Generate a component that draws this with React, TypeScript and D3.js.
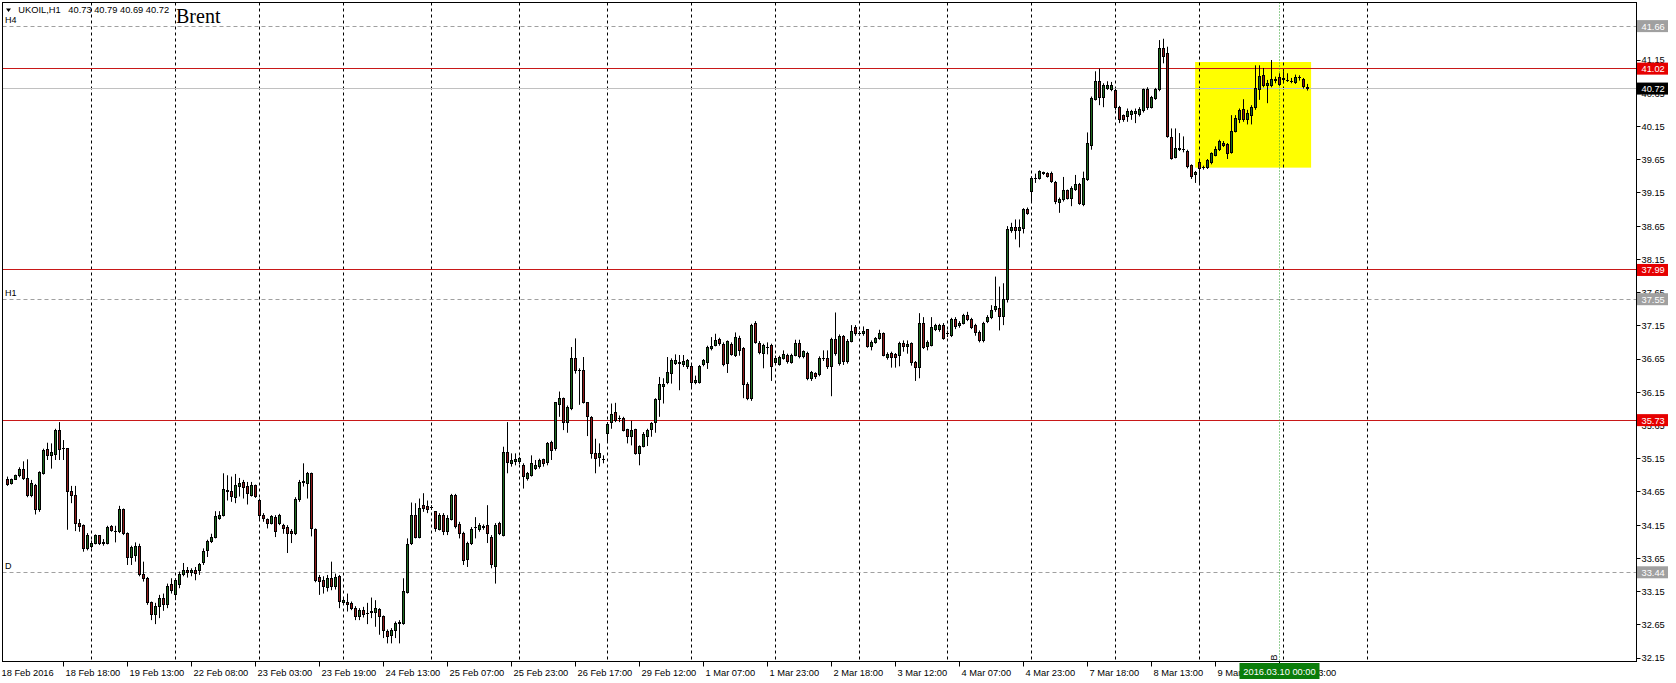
import React from 'react';
import * as d3 from 'd3';

const WIDTH = 1676;
const HEIGHT = 683;
const FONT = '"Liberation Sans", Arial, sans-serif';

const SYMBOL = 'UKOIL,H1';
const TITLE = 'Brent';

// hourly bars [open, high, low, close], 18 Feb 2016 -> 10 Mar 2016
const CANDLES: [number, number, number, number][] = [
  [34.84, 34.88, 34.74, 34.76], [34.77, 34.85, 34.76, 34.83], [34.84, 34.91, 34.83, 34.9], [34.89, 35.02, 34.87, 34.98],
  [34.98, 35.11, 34.83, 34.85], [34.85, 35.14, 34.57, 34.59], [34.59, 34.83, 34.57, 34.77], [34.75, 34.77, 34.31, 34.38],
  [34.38, 34.96, 34.35, 34.94], [34.92, 35.3, 34.91, 35.28], [35.29, 35.39, 35.13, 35.2], [35.2, 35.38, 35.0, 35.24],
  [35.21, 35.6, 35.13, 35.58], [35.57, 35.7, 35.13, 35.29], [35.31, 35.43, 35.13, 35.31], [35.3, 35.31, 34.08, 34.65],
  [34.65, 34.74, 34.48, 34.59], [34.59, 34.74, 34.06, 34.18], [34.18, 34.24, 34.05, 34.13], [34.15, 34.16, 33.75, 33.8],
  [33.8, 34.03, 33.77, 34.0], [33.83, 33.92, 33.8, 33.87], [33.87, 34.01, 33.86, 33.99], [33.99, 34.0, 33.85, 33.87],
  [33.88, 33.94, 33.84, 33.89], [33.87, 34.14, 33.86, 34.11], [34.13, 34.15, 34.05, 34.07], [34.05, 34.14, 33.89, 34.05],
  [34.05, 34.44, 34.03, 34.38], [34.39, 34.4, 34.0, 34.03], [34.03, 34.04, 33.55, 33.67], [33.67, 33.84, 33.55, 33.82],
  [33.7, 33.89, 33.6, 33.83], [33.83, 33.87, 33.38, 33.4], [33.4, 33.6, 33.3, 33.35], [33.35, 33.37, 32.95, 32.98],
  [32.98, 33.0, 32.72, 32.8], [32.8, 32.98, 32.66, 32.93], [32.92, 33.1, 32.75, 33.05], [33.04, 33.12, 32.86, 32.95],
  [32.95, 33.27, 32.9, 33.23], [33.25, 33.35, 33.12, 33.16], [33.1, 33.35, 33.02, 33.32], [33.25, 33.45, 33.2, 33.4],
  [33.4, 33.58, 33.38, 33.47], [33.47, 33.52, 33.36, 33.43], [33.43, 33.5, 33.38, 33.46], [33.47, 33.52, 33.32, 33.42],
  [33.46, 33.58, 33.4, 33.56], [33.58, 33.8, 33.55, 33.76], [33.77, 33.93, 33.67, 33.91], [33.91, 34.02, 33.88, 33.97],
  [33.97, 34.36, 33.95, 34.28], [34.25, 34.36, 34.23, 34.29], [34.29, 34.93, 34.28, 34.68], [34.67, 34.9, 34.52, 34.65],
  [34.66, 34.88, 34.5, 34.58], [34.57, 34.92, 34.48, 34.75], [34.73, 34.86, 34.58, 34.78], [34.79, 34.83, 34.55, 34.72],
  [34.73, 34.8, 34.46, 34.63], [34.6, 34.8, 34.58, 34.74], [34.74, 34.76, 34.56, 34.58], [34.52, 34.55, 34.23, 34.3],
  [34.3, 34.33, 34.2, 34.25], [34.24, 34.25, 34.1, 34.18], [34.18, 34.3, 34.16, 34.28], [34.27, 34.3, 33.97, 34.05],
  [34.17, 34.32, 34.15, 34.3], [34.14, 34.17, 34.02, 34.1], [34.12, 34.15, 33.73, 34.03], [34.05, 34.09, 33.88, 34.02],
  [34.03, 34.57, 34.0, 34.53], [34.53, 34.83, 34.5, 34.79], [34.79, 35.08, 34.73, 34.8], [34.78, 34.95, 34.55, 34.93],
  [34.93, 34.94, 33.98, 34.1], [34.09, 34.1, 33.29, 33.31], [33.36, 33.4, 33.1, 33.3], [33.32, 33.38, 33.12, 33.22],
  [33.21, 33.4, 33.15, 33.34], [33.35, 33.6, 33.17, 33.22], [33.22, 33.42, 33.18, 33.36], [33.37, 33.4, 32.9, 33.0],
  [32.99, 33.06, 32.95, 33.01], [32.98, 33.12, 32.85, 32.96], [32.97, 33.0, 32.87, 32.9], [32.9, 32.93, 32.72, 32.77],
  [32.77, 32.9, 32.72, 32.87], [32.87, 32.92, 32.76, 32.8], [32.82, 32.98, 32.66, 32.82], [32.83, 33.06, 32.75, 32.85],
  [32.83, 33.02, 32.62, 32.9], [32.88, 32.9, 32.5, 32.77], [32.77, 32.79, 32.45, 32.57], [32.55, 32.58, 32.37, 32.47],
  [32.49, 32.6, 32.37, 32.57], [32.57, 32.7, 32.45, 32.67], [32.67, 32.72, 32.37, 32.69], [32.67, 33.35, 32.65, 33.15],
  [33.14, 33.95, 33.12, 33.86], [33.87, 34.49, 33.85, 34.3], [34.29, 34.48, 33.95, 33.97], [33.97, 34.55, 33.95, 34.4],
  [34.45, 34.63, 34.35, 34.4], [34.43, 34.52, 34.33, 34.38], [34.41, 34.45, 34.38, 34.42], [34.35, 34.36, 34.05, 34.1],
  [34.09, 34.33, 34.07, 34.3], [34.3, 34.33, 34.0, 34.05], [34.05, 34.3, 34.0, 34.25], [34.24, 34.62, 34.22, 34.6],
  [34.59, 34.62, 34.1, 34.13], [34.16, 34.2, 33.95, 34.02], [34.03, 34.05, 33.55, 33.62], [33.63, 33.9, 33.52, 33.87],
  [33.87, 34.12, 33.85, 34.09], [34.12, 34.27, 33.95, 34.12], [34.09, 34.18, 34.05, 34.15], [34.13, 34.16, 34.08, 34.12],
  [34.14, 34.45, 33.88, 34.03], [33.97, 34.0, 33.5, 33.55], [33.52, 34.18, 33.27, 34.15], [34.17, 34.2, 34.0, 34.03],
  [34.0, 35.33, 33.98, 35.25], [35.25, 35.7, 34.93, 35.09], [35.08, 35.23, 35.03, 35.12], [35.1, 35.23, 35.05, 35.14],
  [35.1, 35.18, 35.07, 35.15], [35.05, 35.08, 34.7, 34.88], [34.85, 34.95, 34.82, 34.92], [34.9, 35.2, 34.88, 35.07],
  [35.0, 35.13, 34.98, 35.05], [35.03, 35.15, 35.0, 35.12], [35.13, 35.15, 35.03, 35.07], [35.09, 35.4, 35.05, 35.38],
  [35.39, 35.42, 35.13, 35.28], [35.3, 36.0, 35.27, 35.99], [35.97, 36.16, 35.78, 36.06], [36.05, 36.07, 35.58, 35.7],
  [35.7, 35.95, 35.54, 35.92], [35.9, 36.83, 35.88, 36.66], [36.66, 36.96, 36.43, 36.47], [36.48, 36.51, 35.96, 36.48],
  [36.48, 36.68, 35.98, 36.0], [35.99, 36.0, 35.49, 35.78], [35.77, 35.79, 35.15, 35.23], [35.23, 35.45, 34.93, 35.16],
  [35.17, 35.38, 35.03, 35.23], [35.14, 35.2, 35.08, 35.13], [35.53, 35.7, 35.4, 35.67], [35.7, 35.98, 35.6, 35.82],
  [35.84, 35.99, 35.7, 35.73], [35.76, 35.8, 35.7, 35.76], [35.76, 35.78, 35.56, 35.58], [35.59, 35.6, 35.38, 35.48],
  [35.48, 35.72, 35.35, 35.58], [35.59, 35.6, 35.21, 35.23], [35.23, 35.35, 35.05, 35.33], [35.34, 35.55, 35.32, 35.52],
  [35.48, 35.6, 35.34, 35.58], [35.59, 35.7, 35.48, 35.68], [35.69, 36.06, 35.54, 36.04], [36.04, 36.38, 35.78, 36.26],
  [36.23, 36.36, 35.98, 36.27], [36.29, 36.68, 36.27, 36.45], [36.43, 36.66, 36.28, 36.62], [36.58, 36.72, 36.56, 36.62],
  [36.58, 36.71, 36.18, 36.6], [36.57, 36.71, 36.53, 36.61], [36.53, 36.65, 36.5, 36.63], [36.54, 36.56, 36.2, 36.29],
  [36.29, 36.4, 36.27, 36.32], [36.3, 36.56, 36.28, 36.54], [36.56, 36.65, 36.54, 36.62], [36.6, 36.85, 36.5, 36.82],
  [36.81, 36.98, 36.78, 36.84], [36.86, 37.03, 36.84, 36.93], [36.94, 36.97, 36.85, 36.88], [36.87, 36.9, 36.54, 36.56],
  [36.58, 36.93, 36.44, 36.91], [36.87, 36.9, 36.7, 36.72], [36.71, 37.05, 36.68, 36.98], [36.96, 37.0, 36.7, 36.78],
  [36.81, 36.83, 36.06, 36.26], [36.26, 36.3, 36.03, 36.06], [36.06, 37.18, 36.02, 37.16], [37.18, 37.22, 36.88, 36.9],
  [36.89, 36.92, 36.72, 36.75], [36.74, 36.88, 36.51, 36.86], [36.82, 36.9, 36.72, 36.82], [36.85, 36.88, 36.32, 36.53],
  [36.6, 36.7, 36.57, 36.66], [36.57, 36.7, 36.55, 36.67], [36.66, 36.78, 36.64, 36.72], [36.71, 36.73, 36.58, 36.61],
  [36.6, 36.73, 36.58, 36.71], [36.71, 36.94, 36.69, 36.89], [36.88, 36.94, 36.66, 36.69], [36.69, 36.78, 36.66, 36.76],
  [36.73, 36.76, 36.33, 36.35], [36.35, 36.47, 36.32, 36.45], [36.43, 36.45, 36.35, 36.38], [36.41, 36.69, 36.39, 36.66],
  [36.66, 36.78, 36.62, 36.66], [36.66, 36.78, 36.5, 36.53], [36.53, 36.97, 36.09, 36.95], [36.95, 37.35, 36.7, 36.73],
  [36.58, 37.02, 36.55, 36.99], [36.99, 37.01, 36.56, 36.61], [36.61, 36.95, 36.58, 36.92], [36.92, 37.16, 36.9, 37.07],
  [37.13, 37.16, 37.0, 37.03], [37.04, 37.07, 37.0, 37.04], [37.03, 37.14, 37.0, 37.07], [37.09, 37.1, 36.82, 36.84],
  [36.84, 36.93, 36.78, 36.9], [36.9, 36.98, 36.88, 36.96], [36.96, 37.09, 36.94, 37.04], [37.03, 37.05, 36.69, 36.71],
  [36.68, 36.75, 36.64, 36.72], [36.74, 36.76, 36.52, 36.67], [36.72, 36.74, 36.52, 36.68], [36.71, 36.91, 36.54, 36.88],
  [36.88, 36.93, 36.76, 36.84], [36.84, 36.93, 36.73, 36.87], [36.88, 36.9, 36.55, 36.59], [36.59, 36.62, 36.32, 36.52],
  [36.52, 37.34, 36.36, 37.19], [37.19, 37.28, 36.8, 36.83], [36.84, 36.93, 36.78, 36.9], [36.86, 37.28, 36.84, 37.13],
  [37.1, 37.18, 37.07, 37.15], [37.09, 37.18, 37.06, 37.15], [37.16, 37.19, 36.94, 36.96], [37.03, 37.08, 36.98, 37.04],
  [37.01, 37.27, 36.98, 37.25], [37.25, 37.28, 37.1, 37.14], [37.16, 37.22, 37.12, 37.19], [37.19, 37.33, 37.17, 37.3],
  [37.31, 37.36, 37.22, 37.24], [37.25, 37.27, 37.1, 37.13], [37.16, 37.18, 37.0, 37.05], [37.05, 37.08, 36.9, 36.93],
  [36.93, 37.21, 36.9, 37.19], [37.21, 37.31, 37.19, 37.28], [37.27, 37.46, 37.25, 37.38], [37.39, 37.89, 37.36, 37.44],
  [37.41, 37.74, 37.08, 37.29], [37.29, 37.79, 37.16, 37.54], [37.54, 38.65, 37.5, 38.6], [38.59, 38.7, 38.55, 38.63],
  [38.63, 38.75, 38.45, 38.58], [38.59, 38.75, 38.33, 38.63], [38.62, 38.92, 38.54, 38.9], [38.9, 38.93, 38.82, 38.84],
  [39.17, 39.4, 39.0, 39.37], [39.37, 39.44, 39.3, 39.37], [39.37, 39.49, 39.35, 39.47], [39.44, 39.47, 39.42, 39.45],
  [39.44, 39.46, 39.38, 39.4], [39.44, 39.47, 39.3, 39.32], [39.3, 39.33, 38.98, 39.02], [39.0, 39.08, 38.85, 39.05],
  [39.05, 39.39, 39.02, 39.18], [39.18, 39.2, 39.05, 39.07], [39.07, 39.25, 38.95, 39.22], [39.2, 39.42, 39.18, 39.28],
  [39.28, 39.3, 38.97, 38.99], [38.97, 39.47, 38.95, 39.37], [39.35, 40.06, 39.33, 39.89], [39.86, 40.6, 39.8, 40.57],
  [40.56, 40.98, 40.54, 40.83], [40.83, 41.02, 40.47, 40.59], [40.59, 40.8, 40.44, 40.76], [40.72, 40.83, 40.7, 40.76],
  [40.7, 40.82, 40.68, 40.76], [40.69, 40.72, 40.4, 40.44], [40.44, 40.46, 40.2, 40.25], [40.31, 40.33, 40.22, 40.25],
  [40.3, 40.42, 40.22, 40.37], [40.33, 40.4, 40.25, 40.37], [40.34, 40.42, 40.2, 40.37], [40.33, 40.44, 40.3, 40.4],
  [40.39, 40.72, 40.36, 40.7], [40.71, 40.74, 40.4, 40.44], [40.44, 40.61, 40.42, 40.59], [40.57, 40.73, 40.55, 40.7],
  [40.7, 41.45, 40.68, 41.33], [41.33, 41.47, 41.1, 41.2], [41.25, 41.35, 39.98, 40.0], [39.99, 40.12, 39.65, 39.67],
  [39.69, 40.12, 39.67, 39.82], [39.8, 40.05, 39.78, 39.82], [39.8, 40.0, 39.76, 39.8], [39.78, 39.8, 39.52, 39.54],
  [39.56, 39.58, 39.36, 39.39], [39.42, 39.48, 39.3, 39.45], [39.6, 39.63, 39.29, 39.52], [39.53, 39.56, 39.5, 39.53],
  [39.53, 39.66, 39.51, 39.63], [39.6, 39.76, 39.58, 39.74], [39.72, 39.85, 39.7, 39.8], [39.8, 39.95, 39.78, 39.92],
  [39.9, 39.93, 39.84, 39.86], [39.88, 39.9, 39.66, 39.75], [39.76, 40.32, 39.74, 40.08], [40.08, 40.32, 40.06, 40.27],
  [40.25, 40.42, 40.2, 40.39], [40.4, 40.56, 40.22, 40.26], [40.26, 40.4, 40.18, 40.34], [40.32, 40.47, 40.18, 40.44],
  [40.44, 41.07, 40.4, 40.72], [40.71, 41.07, 40.55, 40.9], [40.92, 41.03, 40.74, 40.76], [40.76, 40.85, 40.5, 40.8],
  [40.76, 41.15, 40.74, 40.85], [40.84, 40.9, 40.8, 40.85], [40.88, 40.95, 40.76, 40.78], [40.85, 40.98, 40.8, 40.87],
  [40.84, 40.95, 40.82, 40.84], [40.83, 40.88, 40.8, 40.82], [40.81, 40.93, 40.79, 40.89], [40.88, 40.92, 40.84, 40.88],
  [40.86, 40.88, 40.72, 40.75], [40.73, 40.79, 40.69, 40.72],
];

const X_TICK_BARS = [-1, 15, 31, 47, 63, 79, 95, 111, 127, 143, 159, 175, 191, 207, 223, 239, 255, 271, 287, 303, 319];
const X_TICK_LABELS = [
  '18 Feb 2016', '18 Feb 18:00', '19 Feb 13:00', '22 Feb 08:00', '23 Feb 03:00', '23 Feb 19:00', '24 Feb 13:00',
  '25 Feb 07:00', '25 Feb 23:00', '26 Feb 17:00', '29 Feb 12:00', '1 Mar 07:00', '1 Mar 23:00', '2 Mar 18:00',
  '3 Mar 12:00', '4 Mar 07:00', '4 Mar 23:00', '7 Mar 18:00', '8 Mar 13:00', '9 Mar 08:00', '10 Mar 03:00',
];
const GRID_BARS = [21, 42, 63, 84, 106, 128, 150, 171, 192, 213, 235, 256, 277, 298, 319, 340];
const Y_TICKS = [
  41.15, 40.65, 40.15, 39.65, 39.15, 38.65, 38.15, 37.65, 37.15, 36.65, 36.15, 35.65, 35.15, 34.65, 34.15, 33.65,
  33.15, 32.65, 32.15,
];

const RED_LEVELS = [41.02, 37.99, 35.73];
const PIVOT_LEVELS = [41.66, 37.55, 33.44];
const PIVOT_TAGS = ['H4', 'H1', 'D'];
const BID = 40.72;
const ZONE_BARS = [296.9, 325.9];
const ZONE_PRICES = [41.12, 39.53];
const MARKER_BAR = 318;
const MARKER_TAG = 'B';
const MARKER_TIME = '2016.03.10 00:00';

const BULL = '#1f6a1f';
const BEAR = '#8e1a1a';
const RED_LINE = '#c81818';

const crisp = (v: number) => Math.round(v - 0.5) + 0.5;

export default function App() {
  const x = d3.scaleLinear().domain([0, CANDLES.length - 1]).range([7.5, 7.5 + 4 * (CANDLES.length - 1)]);
  const y = d3.scaleLinear().domain([32.15, 41.15]).range([658, 60]);
  const frame = { left: 2.5, top: 2.5, right: 1636.5, bottom: 661.5 };
  const last = CANDLES[CANDLES.length - 1];
  const fmt = d3.format('.2f');

  const priceBox = (price: number, fill: string, key: string) => {
    const cy = y(price);
    return (
      <g key={key}>
        <rect x={1637} y={cy - 6} width={31} height={12} fill={fill} />
        <text x={1641.5} y={cy + 3.4} fill="#fff" fontSize={9.3} fontFamily={FONT}>
          {fmt(price)}
        </text>
      </g>
    );
  };

  return (
    <svg width={WIDTH} height={HEIGHT} style={{ position: 'absolute', left: 0, top: 0, background: '#fff' }}>
      <rect x={0} y={0} width={WIDTH} height={HEIGHT} fill="#fff" />

      {/* highlighted zone */}
      <rect
        x={x(ZONE_BARS[0])}
        y={y(ZONE_PRICES[0])}
        width={x(ZONE_BARS[1]) - x(ZONE_BARS[0])}
        height={y(ZONE_PRICES[1]) - y(ZONE_PRICES[0])}
        fill="#ffff00"
      />

      {/* vertical grid */}
      {GRID_BARS.map((b) => (
        <line key={b} x1={x(b)} x2={x(b)} y1={frame.top} y2={frame.bottom} stroke="#000" strokeDasharray="3,3" />
      ))}

      {/* pivot levels */}
      {PIVOT_LEVELS.map((p, i) => (
        <g key={p}>
          <line x1={frame.left} x2={frame.right} y1={crisp(y(p))} y2={crisp(y(p))} stroke="#a0a0a0" strokeDasharray="4,3" />
          <text x={5} y={crisp(y(p)) - 3.5} fontSize={9} fontFamily={FONT} fill="#000">
            {PIVOT_TAGS[i]}
          </text>
        </g>
      ))}

      <line x1={frame.left} x2={frame.right} y1={crisp(y(BID))} y2={crisp(y(BID))} stroke="#c0c0c0" />
      {RED_LEVELS.map((p) => (
        <line key={p} x1={frame.left} x2={frame.right} y1={crisp(y(p))} y2={crisp(y(p))} stroke={RED_LINE} />
      ))}

      {/* vertical marker */}
      <line
        x1={x(MARKER_BAR)}
        x2={x(MARKER_BAR)}
        y1={frame.top}
        y2={frame.bottom}
        stroke="#2ca02c"
        strokeDasharray="1,2"
      />
      <text
        transform={`translate(${x(MARKER_BAR) - 3},${frame.bottom - 1}) rotate(-90)`}
        fontSize={9}
        fontFamily={FONT}
        fill="#000"
      >
        {MARKER_TAG}
      </text>

      {/* candles */}
      {CANDLES.map(([o, h, l, c], i) => {
        const cx = x(i);
        const top = crisp(y(Math.max(o, c)));
        const bottom = crisp(y(Math.min(o, c)));
        return (
          <g key={i}>
            <line x1={cx} x2={cx} y1={y(h)} y2={y(l)} stroke="#000" />
            {bottom - top < 1 ? (
              <line x1={cx - 1.5} x2={cx + 1.5} y1={top} y2={top} stroke="#000" />
            ) : (
              <rect x={cx - 1} y={top} width={2} height={bottom - top} fill={c >= o ? BULL : BEAR} stroke="#000" />
            )}
          </g>
        );
      })}

      {/* frame */}
      <rect
        x={frame.left}
        y={frame.top}
        width={frame.right - frame.left}
        height={frame.bottom - frame.top}
        fill="none"
        stroke="#000"
      />

      {/* price axis */}
      {Y_TICKS.map((t) => (
        <g key={t}>
          <line x1={frame.right} x2={frame.right + 4} y1={crisp(y(t))} y2={crisp(y(t))} stroke="#000" />
          <text x={1641.5} y={y(t) + 3.4} fontSize={9.3} fontFamily={FONT} fill="#000">
            {fmt(t)}
          </text>
        </g>
      ))}
      {PIVOT_LEVELS.map((p) => priceBox(p, '#a0a0a0', `p${p}`))}
      {RED_LEVELS.map((p) => priceBox(p, '#e60000', `r${p}`))}
      {priceBox(BID, '#000', 'bid')}

      {/* time axis */}
      {X_TICK_BARS.map((b, i) => (
        <g key={b}>
          <line x1={crisp(x(b)) - 4} x2={crisp(x(b)) - 4} y1={frame.bottom} y2={frame.bottom + 5} stroke="#000" />
          <text x={x(b) - 2} y={675.5} fontSize={9.3} fontFamily={FONT} fill="#000">
            {X_TICK_LABELS[i]}
          </text>
        </g>
      ))}
      <rect x={x(MARKER_BAR) - 40} y={663} width={80} height={16} fill="#0a7d0a" />
      <text x={x(MARKER_BAR)} y={675} textAnchor="middle" fontSize={9.3} fontFamily={FONT} fill="#fff">
        {MARKER_TIME}
      </text>

      {/* header */}
      <path d="M6,8.5 L11,8.5 L8.5,12 Z" fill="#000" />
      <text x={18.3} y={12.7} fontSize={9.3} fontFamily={FONT} fill="#000">
        {SYMBOL}
      </text>
      <text x={68.3} y={12.7} fontSize={9.3} fontFamily={FONT} fill="#000">
        {last.map(fmt).join(' ')}
      </text>
      <text x={176} y={22.7} fontSize={20} fontFamily='"Liberation Serif", "Times New Roman", serif' fill="#000">
        {TITLE}
      </text>
    </svg>
  );
}
